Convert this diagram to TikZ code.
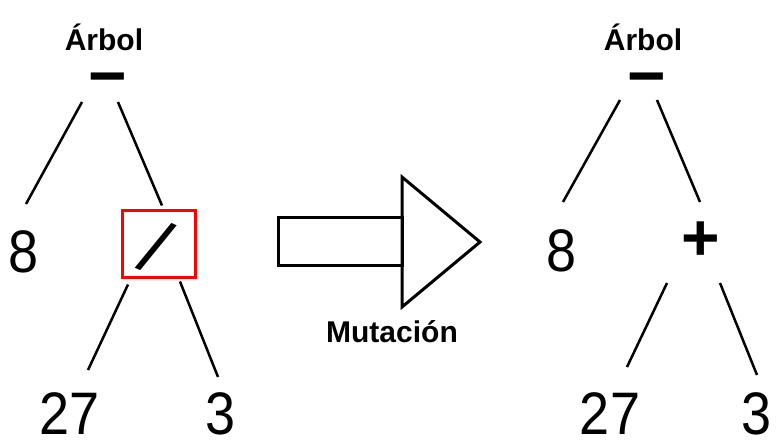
\documentclass[tikz,border=0pt]{standalone}
\usepackage{fontspec}
\setmainfont{Liberation Sans}
\newfontfamily\narrowdigits[FakeStretch=0.9]{Liberation Sans}
\begin{document}
\begin{tikzpicture}[x=1pt,y=-1pt,
  title/.style={font={\fontsize{30}{36}\selectfont\bfseries}, anchor=base, inner sep=0pt},
  num/.style={font={\narrowdigits\fontsize{60}{64}\selectfont}, anchor=base, inner sep=0pt},
  opsign/.style={font={\fontsize{66}{70}\selectfont\bfseries}, anchor=base, inner sep=0pt},
  redbox/.style={draw=red, line width=3pt, minimum width=73pt, minimum height=67pt, inner sep=0pt},
  slashsign/.style={font={\fontsize{76}{76}\selectfont}, inner sep=0pt},
  edge/.style={line width=2.5pt},
  bigarrow/.style={line width=3pt, line join=miter}]
\useasboundingbox (0,0) rectangle (781,439);
% left tree
\node[title] (t1) at (104,50) {Árbol};
\node[opsign] (m1) at (108,98) {−};
\node[num] (e1) at (23.5,272) {8};
\node[redbox] (div) at (158.5,243.5) {};
\node[slashsign] (divsign) at (156,246.5) {\rotatebox[origin=c]{-24}{/}};
\node[num] (a1) at (70,434) {27};
\node[num] (b1) at (221,434) {3};
\draw[edge] ([shift={(-26,4)}]m1.base) -- ([shift={(2.5,-68)}]e1.base);
\draw[edge] ([shift={(10,4)}]m1.base) -- ([shift={(3.5,-3)}]div.north);
\draw[edge] ([shift={(-30.5,6)}]div.south) -- ([shift={(18,-64)}]a1.base);
\draw[edge] ([shift={(21.5,3)}]div.south) -- ([shift={(-3,-57)}]b1.base);
% arrow
\draw[bigarrow] (278,217) rectangle (402,265);
\draw[bigarrow] (402,177) -- (480,242) -- (402,307) -- cycle;
\node[title] (mut) at (392,342) {Mutación};
% right tree
\node[title] (t2) at (643,50) {Árbol};
\node[opsign] (m2) at (646.5,98) {−};
\node[num] (e2) at (561.5,271) {8};
\node[opsign] (p2) at (701,260) {+};
\node[num] (a2) at (610,434) {27};
\node[num] (b2) at (756.5,434) {3};
\draw[edge] ([shift={(-26.5,2)}]m2.base) -- ([shift={(1.5,-69)}]e2.base);
\draw[edge] ([shift={(10.5,2)}]m2.base) -- ([shift={(-1,-58)}]p2.base);
\draw[edge] ([shift={(-34,23)}]p2.base) -- ([shift={(17,-67)}]a2.base);
\draw[edge] ([shift={(19,23)}]p2.base) -- ([shift={(0.5,-59)}]b2.base);
\end{tikzpicture}
\end{document}
